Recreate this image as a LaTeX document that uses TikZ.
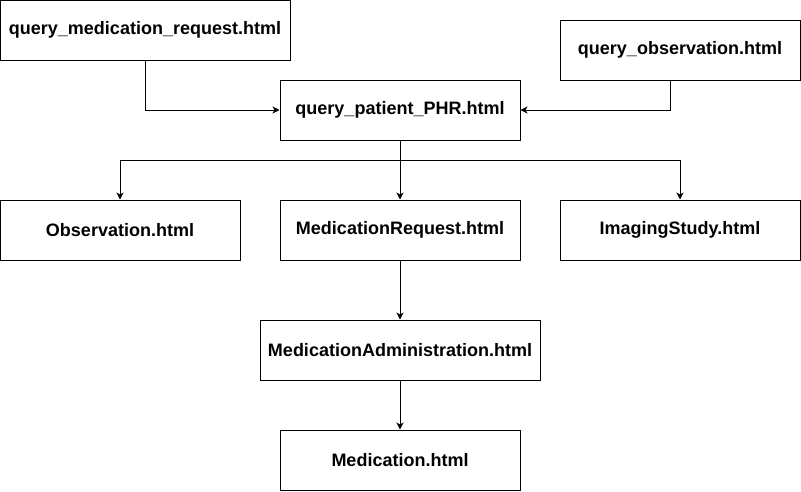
\documentclass[tikz,border=0pt]{standalone}
\usepackage{fontspec}
\setmainfont{Liberation Sans}
\usetikzlibrary{arrows.meta}
\begin{document}
\begin{tikzpicture}[x=1pt,y=-1pt,
  filebox/.style={draw=black,line width=1pt,fill=white,minimum height=60pt,inner sep=0pt,
    font=\fontsize{18pt}{21pt}\selectfont\bfseries},
  conn/.style={draw=black,line width=1pt,-{Stealth[length=7pt,width=7pt,inset=2pt]}}]
\useasboundingbox (0,0) rectangle (801,491);
\node[filebox,minimum width=290pt] (qmr) at (145,30) {query\_medication\_request.html};
\node[filebox,minimum width=240pt] (qo) at (680,50) {query\_observation.html};
\node[filebox,minimum width=240pt] (qp) at (400,110) {query\_patient\_PHR.html};
\node[filebox,minimum width=240pt] (obs) at (120,230) {Observation.html};
\node[filebox,minimum width=240pt] (mr) at (400,230) {MedicationRequest.html};
\node[filebox,minimum width=240pt] (is) at (680,230) {ImagingStudy.html};
\node[filebox,minimum width=280pt] (ma) at (400,350) {MedicationAdministration.html};
\node[filebox,minimum width=240pt] (med) at (400,460) {Medication.html};
\coordinate (split) at (400,160);
\draw[conn] (qmr.south) |- (qp.west);
\draw[conn] (qo.south -| 670,0) |- (qp.east);
\draw[conn] (qp.south) -- (split) -| (obs.north);
\draw[conn] (split) -| (is.north);
\draw[conn] (split) -- (mr.north);
\draw[conn] (mr.south) -- (ma.north);
\draw[conn] (ma.south) -- (med.north);
\end{tikzpicture}
\end{document}
